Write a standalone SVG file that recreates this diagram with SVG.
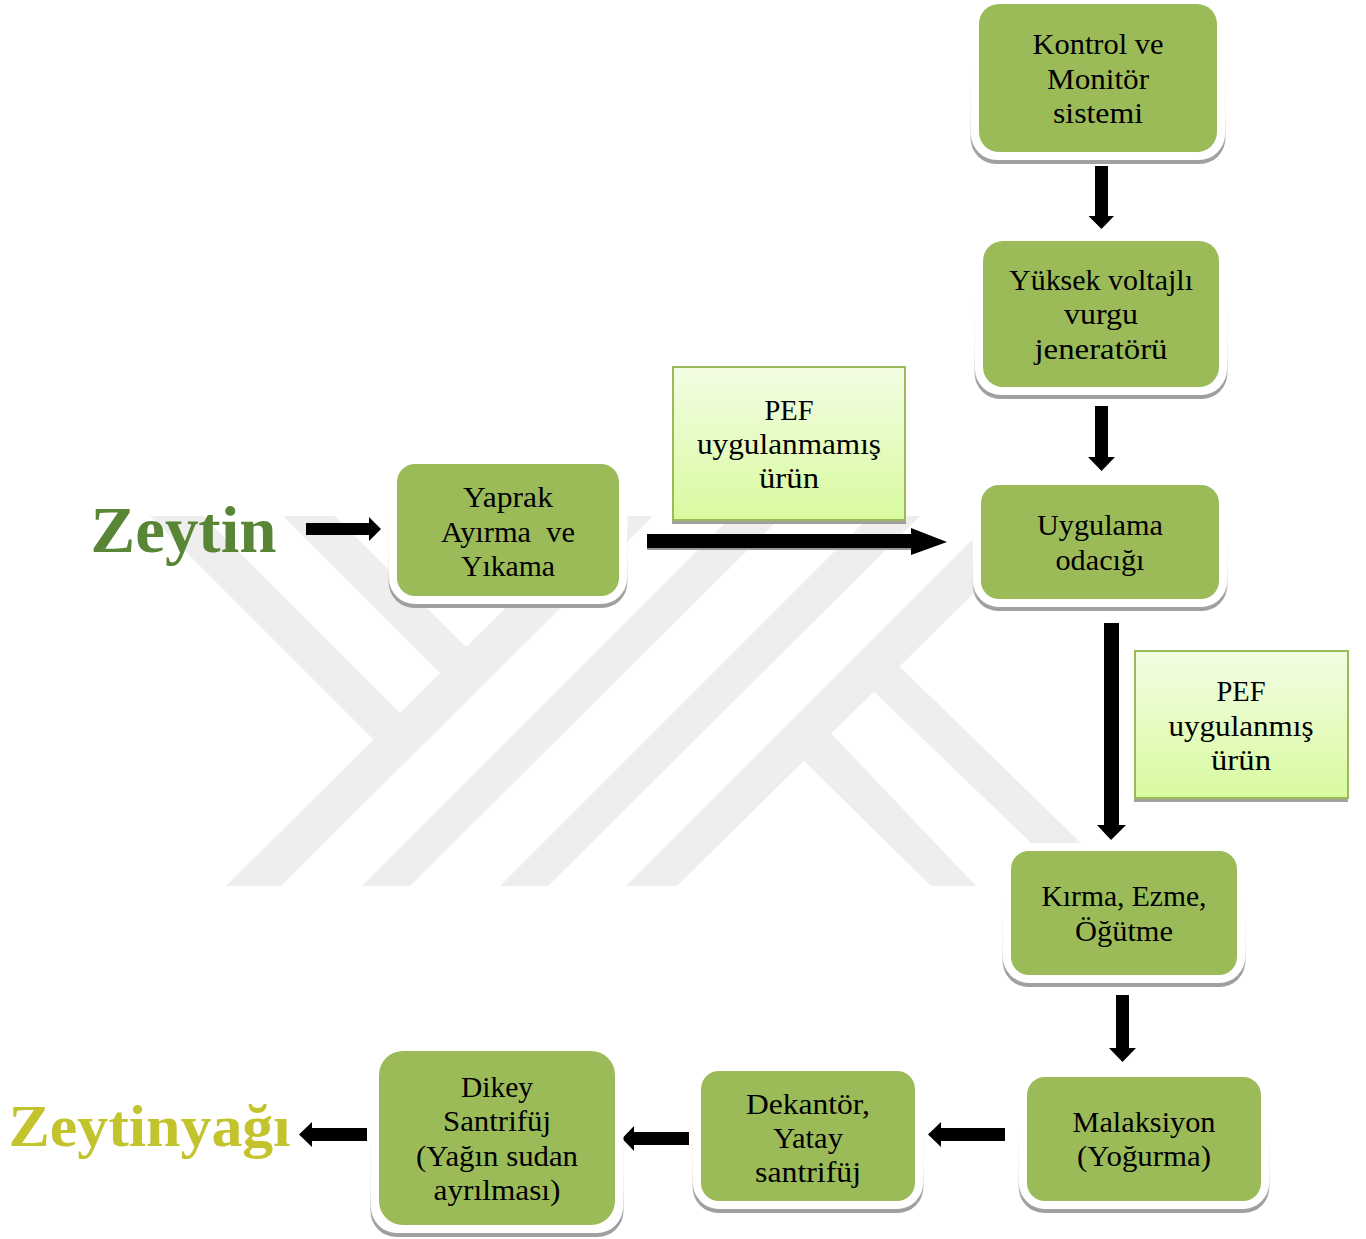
<svg xmlns="http://www.w3.org/2000/svg" width="1366" height="1239" viewBox="0 0 1366 1239">
<style>
.t{font-family:"Liberation Serif","Times New Roman",serif;font-size:30px;fill:#000;text-anchor:middle}
.big{font-family:"Liberation Serif","Times New Roman",serif;font-weight:700;text-anchor:start}
.wm{fill:#eeeeee}
.sh{fill:url(#shade)}
.s2{fill:#a0a0a0}
.halo{fill:#fff}
.f{fill:#9bbb59}
.pale{fill:url(#pale);stroke:#9bbb59;stroke-width:2}
.a{fill:#000}
</style>
<defs>
<linearGradient id="pale" x1="0" y1="0" x2="0" y2="1"><stop offset="0" stop-color="#f3fde4"/><stop offset="1" stop-color="#d8fa9f"/></linearGradient>
<linearGradient id="shade" x1="0" y1="0" x2="0" y2="1"><stop offset="0" stop-color="#fff"/><stop offset=".4" stop-color="#fff"/><stop offset=".75" stop-color="#e2e2e2"/><stop offset=".9" stop-color="#a0a0a0"/><stop offset="1" stop-color="#a0a0a0"/></linearGradient>
</defs>
<rect width="1366" height="1239" fill="#fff"/>
<g id="watermark" class="wm">
<polygon points="226,886 281,886 653,516 598,516"/>
<polygon points="150,516 203,516 405,718 378,744"/>
<polygon points="283,516 335,516 472,653 446,679"/>
<polygon points="362,886 410,886 782,516 732,516"/>
<polygon points="500,886 548,886 920,516 870,516"/>
<polygon points="626,886 677,886 1052,516 996,516"/>
<polygon points="797,754 825,727 976,886 931,886"/>
<polygon points="868,686 893,660 1081,843 1031,843"/>
</g>
<g id="connectors" class="a">
<polygon points="306,523 369,523 369,517 381,529 369,541 369,535 306,535"/>
<rect x="647" y="536" width="264" height="14" fill="#999"/>
<polygon points="647,534 911,534 911,528 947,542 911,555 911,548 647,548"/>
<polygon points="1095,166 1108,166 1108,216 1114,216 1101.500,229 1088.500,216 1095,216"/>
<polygon points="1095,406 1108,406 1108,457 1115,457 1101.500,471 1088,457 1095,457"/>
<polygon points="1104,623 1119,623 1119,825 1126,825 1111,840 1097,825 1104,825"/>
<polygon points="1116,995 1129,995 1129,1048 1136,1048 1122.500,1062 1109,1048 1116,1048"/>
<polygon points="1005,1128 941,1128 941,1122 928,1134.500 941,1147 941,1141 1005,1141"/>
<polygon points="689,1132 634,1132 634,1126 622,1138.500 634,1151 634,1145 689,1145"/>
<polygon points="367,1128 312,1128 312,1122 299,1134.500 312,1147 312,1141 367,1141"/>
</g>
<g id="n-kontrol"><rect class="sh" x="970.500" y="-4" width="255" height="168" rx="26"/><rect class="halo" x="971" y="-4" width="254" height="164" rx="26"/><rect class="f" x="979" y="4" width="238" height="148" rx="20"/>
<text class="t" x="1098" y="54" textLength="131" lengthAdjust="spacingAndGlyphs">Kontrol ve</text><text class="t" x="1098" y="89" textLength="102" lengthAdjust="spacingAndGlyphs">Monitör</text><text class="t" x="1098" y="123" textLength="90" lengthAdjust="spacingAndGlyphs">sistemi</text></g>
<g id="n-yuksek"><rect class="sh" x="974.500" y="233" width="253" height="166" rx="26"/><rect class="halo" x="975" y="233" width="252" height="162" rx="26"/><rect class="f" x="983" y="241" width="236" height="146" rx="20"/>
<text class="t" x="1101" y="290" textLength="184" lengthAdjust="spacingAndGlyphs">Yüksek voltajlı</text><text class="t" x="1101" y="324" textLength="74" lengthAdjust="spacingAndGlyphs">vurgu</text><text class="t" x="1101" y="359" textLength="133" lengthAdjust="spacingAndGlyphs">jeneratörü</text></g>
<g id="n-uygulama"><rect class="sh" x="972.500" y="477" width="255" height="134" rx="26"/><rect class="halo" x="973" y="477" width="254" height="130" rx="26"/><rect class="f" x="981" y="485" width="238" height="114" rx="18"/>
<text class="t" x="1100" y="535" textLength="126" lengthAdjust="spacingAndGlyphs">Uygulama</text><text class="t" x="1100" y="570" textLength="89" lengthAdjust="spacingAndGlyphs">odacığı</text></g>
<g id="n-yaprak"><rect class="sh" x="388.500" y="456" width="239" height="152" rx="26"/><rect class="halo" x="389" y="456" width="238" height="148" rx="26"/><rect class="f" x="397" y="464" width="222" height="132" rx="18"/>
<text class="t" x="508" y="507" textLength="90" lengthAdjust="spacingAndGlyphs">Yaprak</text><text class="t" x="508" y="542" textLength="134" lengthAdjust="spacingAndGlyphs" xml:space="preserve">Ayırma  ve</text><text class="t" x="508" y="576" textLength="94" lengthAdjust="spacingAndGlyphs">Yıkama</text></g>
<g id="n-pef1"><rect class="s2" x="672" y="400" width="234" height="124"/><rect class="pale" x="673" y="367" width="232" height="153"/>
<text class="t" x="789" y="420" textLength="49" lengthAdjust="spacingAndGlyphs">PEF</text><text class="t" x="789" y="454" textLength="184" lengthAdjust="spacingAndGlyphs">uygulanmamış</text><text class="t" x="789" y="488" textLength="60" lengthAdjust="spacingAndGlyphs">ürün</text></g>
<g id="n-pef2"><rect class="s2" x="1134" y="700" width="214" height="102"/><rect class="pale" x="1135" y="651" width="213" height="147"/>
<text class="t" x="1241" y="701" textLength="49" lengthAdjust="spacingAndGlyphs">PEF</text><text class="t" x="1241" y="736" textLength="145" lengthAdjust="spacingAndGlyphs">uygulanmış</text><text class="t" x="1241" y="770" textLength="60" lengthAdjust="spacingAndGlyphs">ürün</text></g>
<g id="n-kirma"><rect class="sh" x="1002.500" y="843" width="243" height="144" rx="26"/><rect class="halo" x="1003" y="843" width="242" height="140" rx="26"/><rect class="f" x="1011" y="851" width="226" height="124" rx="18"/>
<text class="t" x="1124" y="906" textLength="165" lengthAdjust="spacingAndGlyphs">Kırma, Ezme,</text><text class="t" x="1124" y="941" textLength="98" lengthAdjust="spacingAndGlyphs">Öğütme</text></g>
<g id="n-malaksiyon"><rect class="sh" x="1018.500" y="1069" width="251" height="144" rx="26"/><rect class="halo" x="1019" y="1069" width="250" height="140" rx="26"/><rect class="f" x="1027" y="1077" width="234" height="124" rx="18"/>
<text class="t" x="1144" y="1132" textLength="143" lengthAdjust="spacingAndGlyphs">Malaksiyon</text><text class="t" x="1144" y="1166" textLength="134" lengthAdjust="spacingAndGlyphs">(Yoğurma)</text></g>
<g id="n-dekantor"><rect class="sh" x="692.500" y="1063" width="231" height="150" rx="26"/><rect class="halo" x="693" y="1063" width="230" height="146" rx="26"/><rect class="f" x="701" y="1071" width="214" height="130" rx="18"/>
<text class="t" x="808" y="1114" textLength="124" lengthAdjust="spacingAndGlyphs">Dekantör,</text><text class="t" x="808" y="1148" textLength="70" lengthAdjust="spacingAndGlyphs">Yatay</text><text class="t" x="808" y="1182" textLength="106" lengthAdjust="spacingAndGlyphs">santrifüj</text></g>
<g id="n-dikey"><rect class="sh" x="370.500" y="1043" width="253" height="194" rx="26"/><rect class="halo" x="371" y="1043" width="252" height="190" rx="26"/><rect class="f" x="379" y="1051" width="236" height="174" rx="24"/>
<text class="t" x="497" y="1097" textLength="72" lengthAdjust="spacingAndGlyphs">Dikey</text><text class="t" x="497" y="1131" textLength="108" lengthAdjust="spacingAndGlyphs">Santrifüj</text><text class="t" x="497" y="1166" textLength="162" lengthAdjust="spacingAndGlyphs">(Yağın sudan</text><text class="t" x="497" y="1200" textLength="127" lengthAdjust="spacingAndGlyphs">ayrılması)</text></g>
<g id="n-zeytin"><text class="big" x="90.500" y="552" font-size="65" fill="#588636" textLength="186" lengthAdjust="spacingAndGlyphs">Zeytin</text></g>
<g id="n-zeytinyagi"><text class="big" x="8.500" y="1146" font-size="60" fill="#c3c32d" textLength="282" lengthAdjust="spacingAndGlyphs">Zeytinyağı</text></g>
</svg>
